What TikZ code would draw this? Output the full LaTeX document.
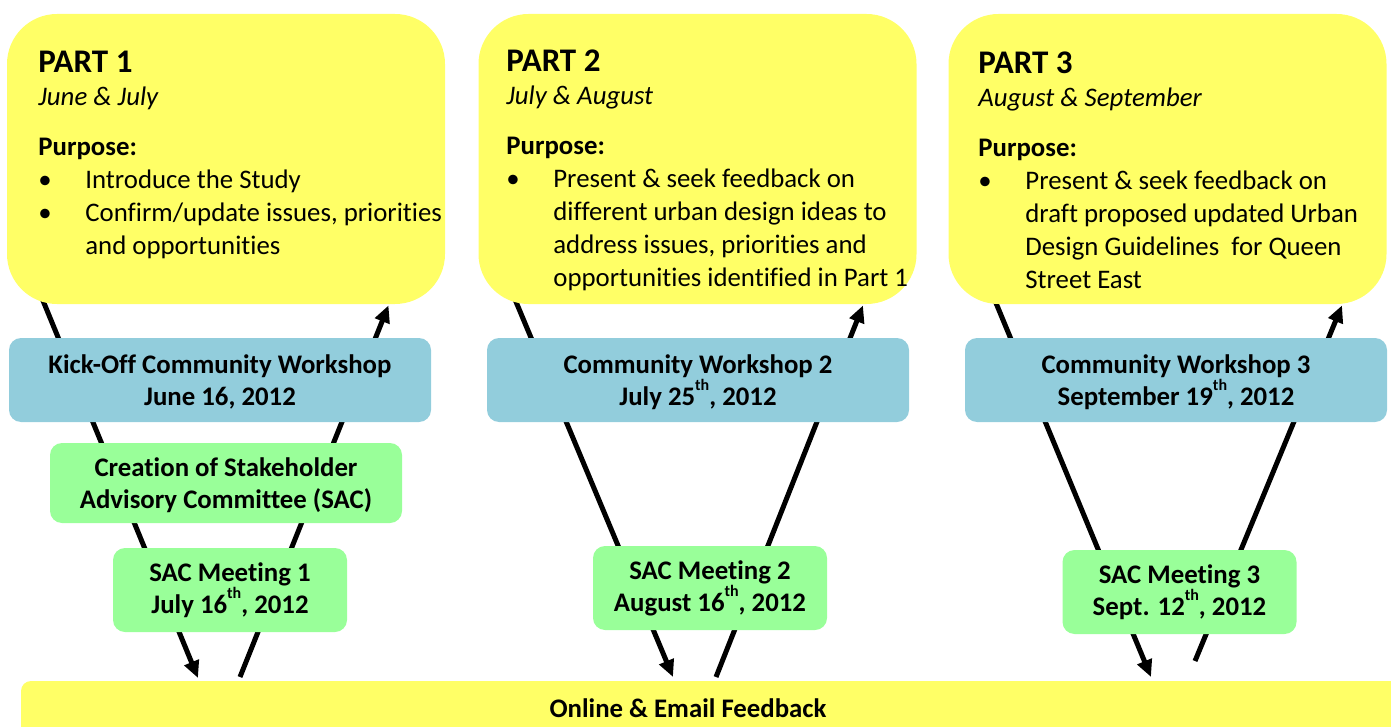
\documentclass[tikz,border=0pt]{standalone}
\usepackage{fontspec}
\setmainfont{Carlito}[Ligatures={TeX,NoCommon}]
\usetikzlibrary{arrows.meta, positioning, calc, backgrounds}
\definecolor{partyellow}{HTML}{FFFF66}
\definecolor{workblue}{HTML}{92CDDC}
\definecolor{sacgreen}{HTML}{99FF99}
\newcommand{\bul}{\makebox[23.5pt][l]{\textbullet}}
\newcommand{\ind}{\hspace*{23.5pt}}
\newcommand{\parttitle}[1]{{\fontsize{16.5}{20}\selectfont\bfseries #1}}
\newcommand{\tsup}[1]{\raisebox{0.55em}{\fontsize{8}{8}\selectfont #1}}

\begin{document}
\begin{tikzpicture}[
  x=0.5pt, y=-0.5pt,
  partbox/.style={rectangle, fill=partyellow, rounded corners=25pt, minimum width=219pt, minimum height=145pt},
  parttext/.style={anchor=north west, inner sep=0pt, align=left, font=\fontsize{13.4}{16.5}\selectfont},
  workbox/.style={rectangle, fill=workblue, rounded corners=6pt, minimum width=211pt, minimum height=42pt, align=center, text depth=0pt, font=\fontsize{13.4}{16}\selectfont\bfseries},
  sacbox/.style={rectangle, fill=sacgreen, rounded corners=6pt, minimum height=42pt, align=center, font=\fontsize{13.4}{16}\selectfont\bfseries},
  flow/.style={line width=2.5pt, -{Triangle[length=8.5pt,width=7.5pt]}}
]
\useasboundingbox (0,0) rectangle (1391,727);

% the three parts
\node[partbox] (p1) at (226,159) {};
\node[partbox] (p2) at (697.5,159) {};
\node[partbox] (p3) at (1167.5,159) {};

\node[parttext] (p1txt) at (38,51) {\parttitle{PART 1}\\
  \textit{June \& July}\\[8.5pt]
  \textbf{Purpose:}\\
  \bul Introduce the Study\\
  \bul Confirm/update issues, priorities\\
  \ind and opportunities};
\node[parttext] (p2txt) at (506,49) {\parttitle{PART 2}\\
  \textit{July \& August}\\[8.5pt]
  \textbf{Purpose:}\\
  \bul Present \& seek feedback on\\
  \ind different urban design ideas to\\
  \ind address issues, priorities and\\
  \ind opportunities identified in Part 1};
\node[parttext] (p3txt) at (978,51) {\parttitle{PART 3}\\
  \textit{August \& September}\\[8.5pt]
  \textbf{Purpose:}\\
  \bul Present \& seek feedback on\\
  \ind draft proposed updated Urban\\
  \ind Design Guidelines\ \ for Queen\\
  \ind Street East};

% workshops
\node[workbox] (w1) at (220,380) {Kick-Off Community Workshop\\June 16, 2012};
\node[workbox] (w2) at (698,380) {Community Workshop 2\\July 25\tsup{th}, 2012};
\node[workbox] (w3) at (1176,380) {Community Workshop 3\\September 19\tsup{th}, 2012};

% SAC
\node[sacbox, minimum width=176pt, minimum height=40pt, text depth=0pt] (sac0) at (226,483) {Creation of Stakeholder\\Advisory Committee (SAC)};
\node[sacbox, minimum width=117pt] (sac1) at (230,590) {SAC Meeting 1\\July 16\tsup{th}, 2012};
\node[sacbox, minimum width=117pt] (sac2) at (710,588) {SAC Meeting 2\\August 16\tsup{th}, 2012};
\node[sacbox, minimum width=117pt] (sac3) at (1179.5,592) {SAC Meeting 3\\Sept. 12\tsup{th}, 2012};

% feedback bar
\fill[partyellow] (1391,727) -- (21,727) [rounded corners=5pt] -- (21,681) [sharp corners] -- (1391,681) -- cycle;
\node[font=\fontsize{13.4}{16}\selectfont\bfseries] (fb) at (688,708) {Online \& Email Feedback};
\coordinate (fb1in) at (198,678);
\coordinate (fb1out) at (240,677);
\coordinate (fb2in) at (673,677);
\coordinate (fb2out) at (716,677);
\coordinate (fb3in) at (1151,677);
\coordinate (fb3out) at (1195,661);

\begin{scope}[on background layer]
\draw[flow] ($(p1.south)+(-183.5,-5)$) -- (fb1in);
\draw[flow] (fb1out) -- ($(p1.south)+(162.5,1)$);
\draw[flow] ($(p2.south)+(-182.5,-5)$) -- (fb2in);
\draw[flow] (fb2out) -- ($(p2.south)+(165.5,1)$);
\draw[flow] ($(p3.south)+(-173,-5)$) -- (fb3in);
\draw[flow] (fb3out) -- ($(p3.south)+(174.5,1)$);
\end{scope}
\end{tikzpicture}
\end{document}
